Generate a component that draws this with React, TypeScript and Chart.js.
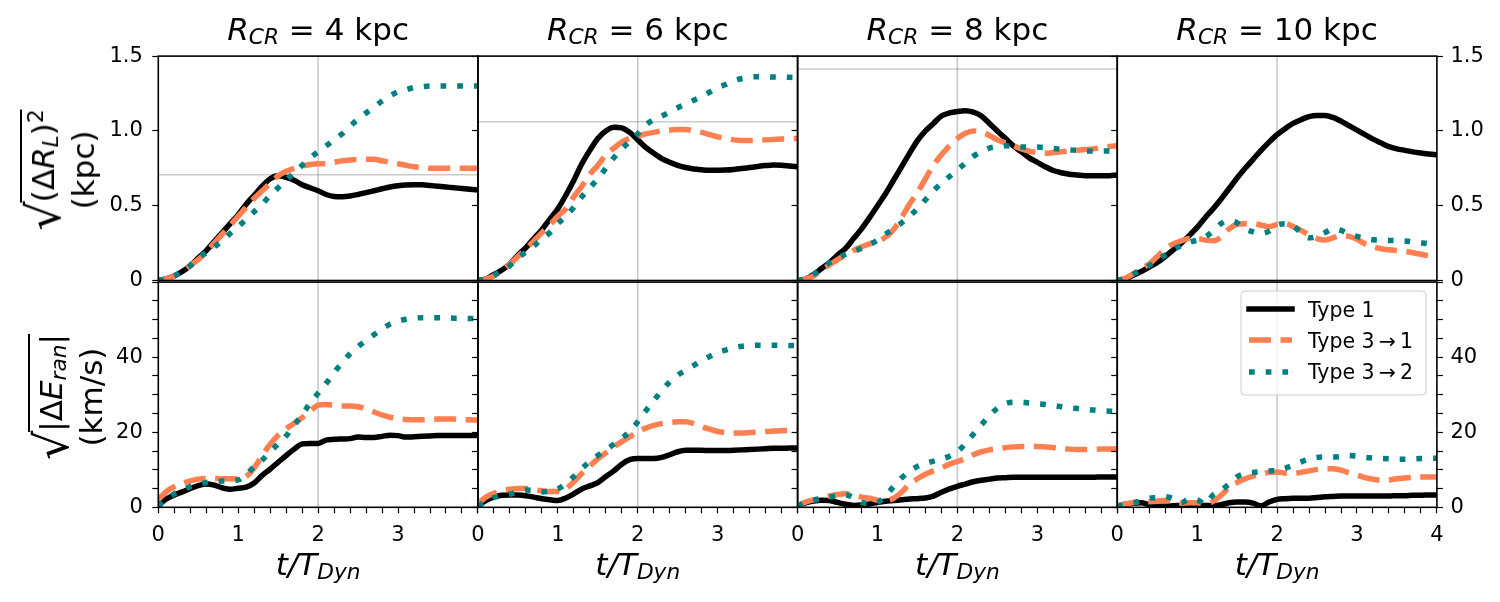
import React, { useEffect, useRef } from 'react';
import { Chart, registerables } from 'chart.js';

Chart.register(...registerables);

const FONT = "'DejaVu Sans', sans-serif";

// time in units of the dynamical time
const tGrid = [
  0, 0.1, 0.2, 0.3, 0.4, 0.5, 0.6, 0.7, 0.8, 0.9, 1.0, 1.1, 1.2, 1.3, 1.4, 1.5, 1.6, 1.7, 1.8, 1.9, 2.0,
  2.1, 2.2, 2.3, 2.4, 2.5, 2.6, 2.7, 2.8, 2.9, 3.0, 3.1, 3.2, 3.3, 3.4, 3.5, 3.6, 3.7, 3.8, 3.9, 4.0,
];

// corotation radii (kpc), one column each
const radii = [4, 6, 8, 10];

// marker time and reference radial excursion for each column
const tMark = 2;
const rLevels = [0.707, 1.061, 1.414, 1.768];

// sqrt(<(dR_L)^2>) in kpc
const r4Type1 = [0, 0.01, 0.03, 0.06, 0.1, 0.15, 0.2, 0.26, 0.32, 0.38, 0.44, 0.51, 0.57, 0.63, 0.68, 0.7, 0.69, 0.67, 0.64, 0.62, 0.6, 0.575, 0.562, 0.56, 0.565, 0.575, 0.587, 0.6, 0.613, 0.625, 0.633, 0.638, 0.64, 0.64, 0.635, 0.63, 0.625, 0.62, 0.615, 0.61, 0.605];
const r4Type31 = [0, 0.01, 0.03, 0.06, 0.1, 0.14, 0.19, 0.25, 0.31, 0.37, 0.43, 0.49, 0.55, 0.6, 0.65, 0.7, 0.73, 0.75, 0.765, 0.775, 0.78, 0.78, 0.79, 0.8, 0.805, 0.81, 0.81, 0.81, 0.8, 0.79, 0.78, 0.77, 0.76, 0.755, 0.75, 0.75, 0.75, 0.75, 0.75, 0.75, 0.75];
const r4Type32 = [0, 0.01, 0.03, 0.065, 0.1, 0.155, 0.185, 0.225, 0.265, 0.315, 0.36, 0.41, 0.46, 0.51, 0.57, 0.62, 0.67, 0.72, 0.77, 0.82, 0.86, 0.9, 0.94, 0.98, 1.03, 1.08, 1.12, 1.16, 1.2, 1.235, 1.26, 1.275, 1.29, 1.295, 1.3, 1.3, 1.3, 1.3, 1.3, 1.3, 1.3];

const r6Type1 = [0, 0.01, 0.04, 0.07, 0.11, 0.17, 0.22, 0.28, 0.34, 0.41, 0.48, 0.57, 0.67, 0.78, 0.87, 0.95, 1.0, 1.025, 1.02, 0.99, 0.94, 0.89, 0.85, 0.815, 0.79, 0.77, 0.755, 0.745, 0.74, 0.737, 0.737, 0.738, 0.742, 0.748, 0.755, 0.762, 0.768, 0.772, 0.77, 0.765, 0.76];
const r6Type31 = [0, 0.01, 0.03, 0.065, 0.11, 0.16, 0.21, 0.265, 0.32, 0.37, 0.43, 0.48, 0.56, 0.63, 0.71, 0.77, 0.84, 0.885, 0.925, 0.95, 0.965, 0.98, 0.99, 1.0, 1.005, 1.01, 1.01, 1.0, 0.99, 0.975, 0.96, 0.95, 0.94, 0.936, 0.935, 0.937, 0.94, 0.943, 0.946, 0.948, 0.95];
const r6Type32 = [0, 0.01, 0.035, 0.065, 0.1, 0.15, 0.19, 0.23, 0.28, 0.32, 0.38, 0.43, 0.49, 0.56, 0.62, 0.68, 0.75, 0.82, 0.88, 0.93, 0.98, 1.04, 1.075, 1.1, 1.125, 1.155, 1.18, 1.205, 1.23, 1.26, 1.29, 1.31, 1.335, 1.35, 1.36, 1.362, 1.362, 1.36, 1.36, 1.358, 1.357];

const r8Type1 = [0, 0.01, 0.04, 0.08, 0.12, 0.17, 0.215, 0.28, 0.345, 0.42, 0.5, 0.58, 0.67, 0.76, 0.85, 0.935, 1.0, 1.05, 1.1, 1.12, 1.13, 1.135, 1.125, 1.1, 1.05, 1.0, 0.95, 0.9, 0.86, 0.82, 0.79, 0.76, 0.735, 0.72, 0.71, 0.705, 0.7, 0.7, 0.7, 0.7, 0.705];
const r8Type31 = [0, 0.01, 0.03, 0.07, 0.105, 0.14, 0.17, 0.2, 0.225, 0.245, 0.26, 0.29, 0.34, 0.42, 0.51, 0.59, 0.68, 0.77, 0.84, 0.9, 0.95, 0.985, 1.0, 0.99, 0.97, 0.94, 0.92, 0.9, 0.88, 0.865, 0.855, 0.85, 0.855, 0.86, 0.865, 0.87, 0.875, 0.88, 0.89, 0.895, 0.9];
const r8Type32 = [0, 0.01, 0.04, 0.08, 0.12, 0.15, 0.175, 0.195, 0.215, 0.24, 0.27, 0.31, 0.345, 0.385, 0.43, 0.48, 0.54, 0.6, 0.65, 0.695, 0.74, 0.785, 0.83, 0.86, 0.885, 0.895, 0.9, 0.898, 0.893, 0.892, 0.892, 0.888, 0.882, 0.877, 0.873, 0.87, 0.866, 0.865, 0.865, 0.866, 0.868];

const r10Type1 = [0, 0.01, 0.035, 0.06, 0.09, 0.12, 0.16, 0.205, 0.25, 0.3, 0.355, 0.42, 0.48, 0.545, 0.615, 0.685, 0.75, 0.81, 0.87, 0.925, 0.975, 1.015, 1.05, 1.075, 1.095, 1.103, 1.103, 1.09, 1.065, 1.035, 1.005, 0.975, 0.945, 0.92, 0.895, 0.88, 0.87, 0.86, 0.852, 0.845, 0.84];
const r10Type31 = [0, 0.015, 0.045, 0.08, 0.11, 0.16, 0.21, 0.245, 0.265, 0.28, 0.28, 0.27, 0.265, 0.29, 0.345, 0.375, 0.38, 0.38, 0.37, 0.36, 0.375, 0.38, 0.36, 0.335, 0.305, 0.28, 0.27, 0.285, 0.3, 0.295, 0.275, 0.245, 0.225, 0.212, 0.205, 0.2, 0.195, 0.185, 0.175, 0.165, 0.155];
const r10Type32 = [0, 0.015, 0.043, 0.07, 0.1, 0.14, 0.17, 0.205, 0.235, 0.255, 0.27, 0.29, 0.33, 0.38, 0.4, 0.385, 0.345, 0.325, 0.315, 0.33, 0.37, 0.38, 0.365, 0.32, 0.285, 0.295, 0.32, 0.345, 0.335, 0.31, 0.295, 0.28, 0.272, 0.27, 0.268, 0.266, 0.264, 0.258, 0.252, 0.245, 0.235];

// sqrt(|dE_ran|) in km/s
const e4Type1 = [0.5, 2.2, 3.3, 4.1, 5.0, 5.8, 6.2, 5.9, 5.2, 4.8, 5.1, 5.4, 6.5, 8.5, 10.2, 12.0, 13.8, 15.5, 16.9, 17.0, 17.0, 17.9, 18.1, 18.2, 18.3, 18.7, 18.6, 18.6, 18.9, 19.2, 19.1, 18.7, 18.8, 18.9, 19.0, 19.1, 19.1, 19.1, 19.1, 19.1, 19.2];
const e4Type31 = [2.0, 4.2, 5.5, 6.4, 7.0, 7.5, 7.7, 7.7, 7.6, 7.6, 7.6, 8.2, 10.5, 13.8, 16.8, 19.2, 20.9, 22.4, 23.9, 25.6, 27.2, 27.4, 27.2, 27.0, 27.0, 26.8, 26.2, 25.4, 24.6, 24.0, 23.6, 23.4, 23.3, 23.3, 23.4, 23.5, 23.5, 23.5, 23.4, 23.3, 23.2];
const e4Type32 = [0.3, 2.2, 3.6, 4.6, 5.5, 6.1, 6.6, 6.9, 7.0, 7.1, 7.3, 8.8, 10.8, 12.6, 14.8, 16.9, 19.0, 21.8, 24.7, 27.7, 30.4, 33.0, 35.9, 38.5, 40.9, 42.8, 44.5, 46.0, 47.5, 48.8, 49.6, 50.1, 50.4, 50.5, 50.5, 50.5, 50.5, 50.4, 50.4, 50.3, 50.3];

const e6Type1 = [0.5, 1.8, 2.8, 3.2, 3.3, 3.3, 3.1, 2.7, 2.3, 2.0, 1.8, 2.5, 3.6, 4.9, 5.7, 6.6, 8.2, 9.7, 11.5, 12.7, 13.0, 13.0, 13.0, 13.3, 14.0, 14.8, 15.2, 15.2, 15.2, 15.1, 15.1, 15.1, 15.2, 15.3, 15.4, 15.5, 15.6, 15.7, 15.7, 15.8, 15.8];
const e6Type31 = [1.0, 2.7, 3.7, 4.3, 4.8, 5.0, 5.0, 4.7, 4.4, 4.2, 4.2, 4.9, 6.8, 9.0, 11.0, 12.9, 14.5, 16.1, 17.5, 18.8, 20.1, 21.1, 21.8, 22.3, 22.6, 22.8, 22.8, 22.3, 21.5, 20.8, 20.2, 19.9, 19.8, 19.8, 19.9, 20.0, 20.2, 20.3, 20.4, 20.5, 20.5];
const e6Type32 = [0.3, 1.6, 2.6, 3.0, 3.5, 4.1, 4.6, 4.5, 4.1, 4.3, 4.9, 6.3, 8.2, 10.3, 12.2, 13.8, 15.3, 16.8, 18.4, 20.2, 22.8, 25.7, 28.4, 31.1, 33.4, 35.2, 36.5, 37.8, 39.1, 40.2, 41.2, 41.9, 42.5, 42.9, 43.1, 43.2, 43.2, 43.2, 43.2, 43.1, 43.1];

const e8Type1 = [0.3, 1.2, 1.7, 1.9, 1.8, 1.3, 0.8, 0.5, 0.6, 0.9, 1.3, 1.6, 1.8, 2.0, 2.2, 2.3, 2.5, 3.0, 4.0, 4.9, 5.6, 6.2, 6.8, 7.2, 7.5, 7.8, 7.9, 8.0, 8.0, 8.0, 8.0, 8.0, 8.0, 8.0, 8.0, 8.0, 8.0, 8.0, 8.1, 8.1, 8.1];
const e8Type31 = [0.5, 1.4, 2.0, 2.5, 3.0, 3.4, 3.6, 3.2, 2.7, 2.4, 1.9, 1.8, 2.4, 4.0, 6.2, 7.6, 8.8, 9.7, 10.5, 11.5, 12.2, 13.0, 14.0, 14.8, 15.3, 15.6, 15.9, 16.1, 16.2, 16.2, 16.2, 16.1, 15.9, 15.7, 15.5, 15.4, 15.4, 15.4, 15.5, 15.5, 15.6];
const e8Type32 = [0.3, 1.3, 1.9, 2.3, 2.7, 3.1, 3.3, 2.6, 1.3, 1.0, 1.3, 3.0, 5.5, 7.8, 9.6, 10.9, 11.7, 12.3, 12.8, 13.6, 14.8, 17.0, 19.5, 22.0, 24.4, 26.4, 27.6, 28.0, 28.0, 27.8, 27.6, 27.4, 27.1, 26.8, 26.5, 26.3, 26.1, 25.9, 25.7, 25.6, 25.5];

const e10Type1 = [0.3, 0.8, 1.1, 1.2, 0.7, 0.3, 0.3, 0.4, 0.5, 0.6, 0.6, 0.5, 0.4, 0.7, 1.2, 1.4, 1.4, 1.1, 0.4, 1.4, 2.1, 2.3, 2.4, 2.4, 2.4, 2.6, 2.8, 2.9, 3.0, 3.0, 3.0, 3.0, 3.0, 3.0, 3.0, 3.1, 3.1, 3.2, 3.2, 3.3, 3.3];
const e10Type31 = [0.3, 0.9, 1.3, 1.5, 1.5, 1.6, 1.9, 1.7, 1.1, 1.2, 1.2, 0.9, 1.6, 3.2, 5.3, 6.6, 7.6, 8.3, 8.8, 9.3, 9.4, 9.1, 9.0, 9.3, 9.7, 10.1, 10.3, 10.3, 9.9, 9.2, 8.6, 7.9, 7.5, 7.2, 7.3, 7.6, 7.8, 8.0, 8.1, 8.1, 8.1];
const e10Type32 = [0.3, 0.7, 1.1, 1.8, 2.4, 2.6, 2.8, 2.3, 1.2, 2.2, 2.0, 0.9, 3.3, 4.5, 6.2, 8.1, 9.0, 9.3, 9.5, 9.7, 9.8, 10.4, 11.2, 12.1, 12.8, 13.3, 13.4, 13.4, 13.5, 13.8, 13.6, 13.3, 13.1, 13.0, 12.9, 12.8, 12.8, 12.9, 13.0, 13.1, 13.1];

const radialSeries = [
  [r4Type1, r4Type31, r4Type32],
  [r6Type1, r6Type31, r6Type32],
  [r8Type1, r8Type31, r8Type32],
  [r10Type1, r10Type31, r10Type32],
];
const energySeries = [
  [e4Type1, e4Type31, e4Type32],
  [e6Type1, e6Type31, e6Type32],
  [e8Type1, e8Type31, e8Type32],
  [e10Type1, e10Type31, e10Type32],
];

const seriesLabels = ['Type 1', 'Type 3\u2009\u2192\u20091', 'Type 3\u2009\u2192\u20092'];

// page layout of the 2 x 4 grid
const COL_LEFT = [158.3, 477.95, 797.6, 1117.25];
const PANEL_W = 319.65;
const ROW_Y = [
  { top: 54.3, bottom: 280.5 },
  { top: 280.5, bottom: 507.3 },
];
const PAD = { l: 70, r: 70, t: 20, b: 45 };

const LINE_W = 5.5;
const LINE_STYLE = [
  { color: '#000000', dash: [] as number[] },
  { color: '#FF7F50', dash: [22, 9.5] },
  { color: '#008080', dash: [5.7, 11] },
];
const REF_COLOR = 'rgba(128,128,128,0.42)';
const TICK_FS = 21;
const LEGEND_FS = 20.5;
const LABEL_FS = 31;

const framePlugin = {
  id: 'frame',
  afterDatasetsDraw(chart: any) {
    const { ctx, chartArea: a } = chart;
    ctx.save();
    ctx.strokeStyle = '#000';
    ctx.lineWidth = 1.6;
    ctx.strokeRect(a.left, a.top, a.right - a.left, a.bottom - a.top);
    ctx.restore();
  },
};

function makeLegendPlugin(ox: number, oy: number) {
  return {
    id: 'boxLegend',
    afterDraw(chart: any) {
      const ctx = chart.ctx as CanvasRenderingContext2D;
      const bx = 1241 - ox;
      const by = 291 - oy;
      const bw = 185;
      const bh = 104;
      const rad = 4;
      ctx.save();
      ctx.beginPath();
      ctx.moveTo(bx + rad, by);
      ctx.arcTo(bx + bw, by, bx + bw, by + bh, rad);
      ctx.arcTo(bx + bw, by + bh, bx, by + bh, rad);
      ctx.arcTo(bx, by + bh, bx, by, rad);
      ctx.arcTo(bx, by, bx + bw, by, rad);
      ctx.closePath();
      ctx.fillStyle = 'rgba(255,255,255,0.8)';
      ctx.fill();
      ctx.strokeStyle = '#cccccc';
      ctx.lineWidth = 1;
      ctx.stroke();
      const rowY = [309, 340, 372];
      const baseY = [316.5, 347.5, 379];
      for (let k = 0; k < 3; k++) {
        ctx.beginPath();
        ctx.setLineDash(LINE_STYLE[k].dash);
        ctx.lineCap = k === 0 ? 'square' : 'butt';
        ctx.lineWidth = LINE_W;
        ctx.strokeStyle = LINE_STYLE[k].color;
        ctx.moveTo(1249 - ox, rowY[k] - oy);
        ctx.lineTo(1292 - ox, rowY[k] - oy);
        ctx.stroke();
        ctx.setLineDash([]);
        ctx.font = `${LEGEND_FS}px ${FONT}`;
        ctx.fillStyle = '#000';
        ctx.textBaseline = 'alphabetic';
        ctx.fillText(seriesLabels[k], 1308 - ox, baseY[k] - oy);
      }
      ctx.restore();
    },
  };
}

type PanelProps = { col: number; row: number; series: number[][]; level?: number; legend?: boolean };

function Panel({ col, row, series, level, legend }: PanelProps) {
  const ref = useRef<HTMLCanvasElement>(null);
  const L = COL_LEFT[col];
  const R = L + PANEL_W;
  const top = ROW_Y[row].top;
  const bottom = ROW_Y[row].bottom;
  const cl = Math.floor(L - PAD.l);
  const ct = Math.floor(top - PAD.t);
  const cr = Math.ceil(R + PAD.r);
  const cb = Math.ceil(bottom + PAD.b);
  const w = cr - cl;
  const h = cb - ct;

  useEffect(() => {
    if (!ref.current) return;
    const isTop = row === 0;
    const yMax = isTop ? 1.5 : 60;
    const yStep = isTop ? 0.5 : 5;
    const yText = (v: number) => {
      if (isTop) return v === 0 ? '0' : v.toFixed(1);
      return v % 20 === 0 && v < 60 ? String(v) : '';
    };
    const xText = (v: number) => {
      const n = Math.round(v);
      if (Math.abs(v - n) > 1e-6) return '';
      if (col < 3 && n === 4) return '';
      return String(n);
    };
    const tickFont = { family: FONT, size: TICK_FS };
    const grid = {
      drawOnChartArea: false,
      drawTicks: true,
      tickLength: 6,
      tickColor: '#000',
      tickWidth: 1.2,
    };

    const datasets: any[] = series.map((vals, k) => ({
      label: seriesLabels[k],
      data: vals.map((v, i) => ({ x: tGrid[i], y: v })),
      borderColor: LINE_STYLE[k].color,
      borderDash: LINE_STYLE[k].dash,
      borderWidth: LINE_W,
      borderCapStyle: 'butt',
      borderJoinStyle: 'round',
      pointRadius: 0,
      fill: false,
      cubicInterpolationMode: 'monotone',
      clip: 0,
      order: 3 - k,
    }));
    datasets.push({
      label: 'tMark',
      data: [
        { x: tMark, y: 0 },
        { x: tMark, y: yMax },
      ],
      borderColor: REF_COLOR,
      borderWidth: 1.6,
      pointRadius: 0,
      fill: false,
      clip: 0,
      order: 10,
    });
    if (level !== undefined) {
      datasets.push({
        label: 'rLevel',
        data: [
          { x: 0, y: level },
          { x: 4, y: level },
        ],
        borderColor: REF_COLOR,
        borderWidth: 1.6,
        pointRadius: 0,
        fill: false,
        clip: 0,
        order: 10,
      });
    }

    const scales: any = {
      x: {
        type: 'linear',
        min: 0,
        max: 4,
        display: !isTop,
        position: 'bottom',
        ticks: {
          stepSize: 0.2,
          autoSkip: false,
          maxRotation: 0,
          font: tickFont,
          color: '#000',
          padding: 10,
          callback: (v: any) => xText(Number(v)),
        },
        grid,
        border: { display: false },
        afterFit: (s: any) => {
          s.height = cb - bottom;
        },
      },
      y: {
        type: 'linear',
        min: 0,
        max: yMax,
        position: 'left',
        ticks: {
          stepSize: yStep,
          autoSkip: false,
          font: tickFont,
          color: '#000',
          padding: 9.5,
          callback: (v: any) => (col === 0 ? yText(Number(v)) : ''),
        },
        grid,
        border: { display: false },
        afterFit: (s: any) => {
          s.width = L - cl;
        },
      },
    };
    if (col === 3) {
      scales.y2 = {
        type: 'linear',
        min: 0,
        max: yMax,
        position: 'right',
        ticks: {
          stepSize: yStep,
          autoSkip: false,
          font: tickFont,
          color: '#000',
          padding: 7.5,
          callback: (v: any) => yText(Number(v)),
        },
        grid,
        border: { display: false },
        afterFit: (s: any) => {
          s.width = cr - R;
        },
      };
    }

    const plugins: any[] = [framePlugin];
    if (legend) plugins.push(makeLegendPlugin(cl, ct));

    const chart = new Chart(ref.current, {
      type: 'line',
      data: { datasets },
      options: {
        responsive: false,
        animation: false,
        devicePixelRatio: 1,
        layout: {
          padding: {
            left: 0,
            top: top - ct,
            right: col === 3 ? 0 : cr - R,
            bottom: 0,
          },
        },
        plugins: {
          legend: { display: false },
          tooltip: { enabled: false },
        },
        scales,
      } as any,
      plugins,
    });
    return () => chart.destroy();
  }, []);

  return (
    <canvas
      ref={ref}
      width={w}
      height={h}
      style={{ position: 'absolute', left: cl, top: ct, width: w, height: h }}
    />
  );
}

const subStyle: React.CSSProperties = {
  fontSize: '0.7em',
  position: 'relative',
  top: '0.2em',
  fontStyle: 'italic',
};

function Title({ col, radius }: { col: number; radius: number }) {
  return (
    <div
      style={{
        position: 'absolute',
        left: COL_LEFT[col],
        width: PANEL_W,
        top: 11,
        textAlign: 'center',
        fontSize: LABEL_FS,
        lineHeight: 'normal',
        whiteSpace: 'nowrap',
      }}
    >
      <i>R</i>
      <span style={subStyle}>CR</span>
      {' = '}
      {radius} kpc
    </div>
  );
}

function XLabel({ col }: { col: number }) {
  return (
    <div
      style={{
        position: 'absolute',
        left: COL_LEFT[col],
        width: PANEL_W,
        top: 546,
        textAlign: 'center',
        fontSize: LABEL_FS,
        lineHeight: 'normal',
        fontStyle: 'italic',
        whiteSpace: 'nowrap',
      }}
    >
      t/T<span style={subStyle}>Dyn</span>
    </div>
  );
}

// square root sign followed by an overlined radicand
function Radical({ children }: { children: React.ReactNode }) {
  return (
    <span style={{ display: 'inline-flex', alignItems: 'flex-start', height: 48 }}>
      <span
        style={{
          display: 'inline-block',
          fontSize: 46,
          lineHeight: '46px',
          marginTop: 4,
          marginRight: -1,
        }}
      >
        √
      </span>
      <span
        style={{
          display: 'inline-block',
          borderTop: '2px solid #000',
          marginTop: 3,
          paddingTop: 2,
          lineHeight: '38px',
        }}
      >
        {children}
      </span>
    </span>
  );
}

function YLabel({ cx, cy, first, second }: { cx: number; cy: number; first: React.ReactNode; second: string }) {
  return (
    <div
      style={{
        position: 'absolute',
        left: cx,
        top: cy,
        transform: 'translate(-50%, -50%) rotate(-90deg)',
        fontSize: LABEL_FS,
        whiteSpace: 'nowrap',
        display: 'flex',
        flexDirection: 'column',
        alignItems: 'center',
      }}
    >
      <div style={{ height: 48, lineHeight: '48px' }}>{first}</div>
      <div style={{ height: 36, lineHeight: '36px' }}>{second}</div>
    </div>
  );
}

export default function App() {
  const panels: JSX.Element[] = [];
  for (let c = 0; c < 4; c++) {
    panels.push(<Panel key={`r${c}`} col={c} row={0} series={radialSeries[c]} level={rLevels[c]} />);
    panels.push(<Panel key={`e${c}`} col={c} row={1} series={energySeries[c]} legend={c === 3} />);
  }
  return (
    <div
      style={{
        position: 'absolute',
        left: 0,
        top: 0,
        width: 1500,
        height: 602,
        overflow: 'hidden',
        background: '#fff',
        fontFamily: FONT,
        color: '#000',
      }}
    >
      {panels}
      {radii.map((r, c) => (
        <Title key={`t${c}`} col={c} radius={r} />
      ))}
      {radii.map((_, c) => (
        <XLabel key={`x${c}`} col={c} />
      ))}
      <YLabel
        cx={59}
        cy={170}
        first={
          <Radical>
            (Δ<i>R</i>
            <span style={subStyle}>L</span>)<span style={{ fontSize: '0.7em', position: 'relative', top: '-0.5em' }}>2</span>
          </Radical>
        }
        second="(kpc)"
      />
      <YLabel
        cx={67}
        cy={397}
        first={
          <Radical>
            |Δ<i>E</i>
            <span style={subStyle}>ran</span>|
          </Radical>
        }
        second="(km/s)"
      />
    </div>
  );
}
